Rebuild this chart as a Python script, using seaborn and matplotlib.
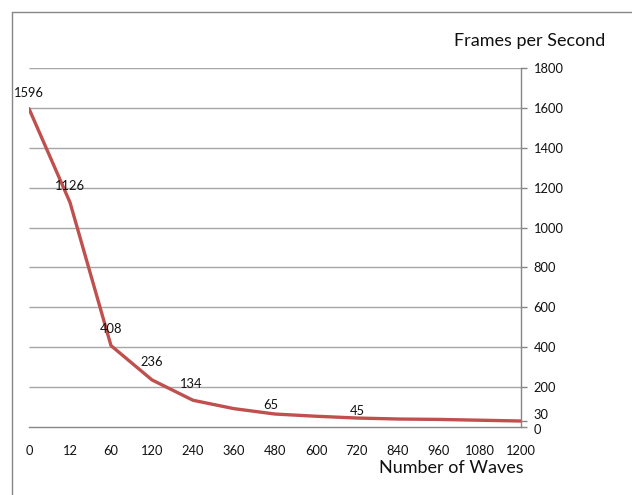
import matplotlib
matplotlib.use("Agg")
import matplotlib.pyplot as plt
import matplotlib.transforms as mtransforms
from matplotlib.lines import Line2D
import seaborn as sns
import pandas as pd

waves = ["0", "12", "60", "120", "240", "360", "480", "600", "720", "840", "960", "1080", "1200"]
fps = [1596, 1126, 408, 236, 134, 92, 65, 54, 45, 40, 38, 34, 30]
labeled = ["0", "12", "60", "120", "240", "480", "720"]
y_ticks = [0, 30, 200, 400, 600, 800, 1000, 1200, 1400, 1600, 1800]
grid_levels = [200, 400, 600, 800, 1000, 1200, 1400, 1600, 1800]

sns.set_theme(style="white")
plt.rcParams["font.family"] = ["Lato", "DejaVu Sans"]

df = pd.DataFrame({"waves": pd.Categorical(waves, categories=waves, ordered=True), "fps": fps})

fig = plt.figure(figsize=(6.32, 4.95), dpi=100)
ax = fig.add_axes([29 / 632, 1 - 427 / 495, (521 - 29) / 632, (427 - 68) / 495])

# horizontal gridlines at the 200 steps
ax.hlines(grid_levels, 0, 12, colors="#a6a6a6", linewidth=1.0, zorder=1)

sns.lineplot(data=df, x="waves", y="fps", color="#C0504D", linewidth=2.4,
             sort=False, ax=ax, zorder=3)

ax.set_xlim(0, 12)
ax.set_ylim(0, 1800)

# value labels above selected points
label_offsets = {"0": 11.5, "12": 11.5, "60": 12, "120": 13, "240": 11.5, "480": 6.5, "720": 5}
label_dx = {"240": -1.5, "480": -3}
for i, (w, v) in enumerate(zip(waves, fps)):
    if w in labeled:
        ax.annotate(str(v), (i, v), xytext=(label_dx.get(w, 0), label_offsets[w]),
                    textcoords="offset points", ha="center", va="center",
                    fontsize=9.3, color="#111111", zorder=4)

ax.yaxis.tick_right()
ax.set_yticks(y_ticks)
ax.set_yticklabels([str(t) for t in y_ticks])
ax.tick_params(axis="y", which="both", right=True, left=False, length=4, width=1,
               color="#868686", labelsize=9.3, labelcolor="#111111", pad=5)
ax.set_xticks(range(len(waves)))
ax.set_xticklabels(waves)
ax.tick_params(axis="x", bottom=False, labelsize=9.3, labelcolor="#111111", pad=7)

# keep the crowded 30 and 0 labels apart
for lab in ax.get_yticklabels():
    if lab.get_text() == "30":
        lab.set_transform(lab.get_transform() + mtransforms.ScaledTranslation(0, 7 / 100, fig.dpi_scale_trans))
    elif lab.get_text() == "0":
        lab.set_transform(lab.get_transform() + mtransforms.ScaledTranslation(0, -2 / 100, fig.dpi_scale_trans))

for side in ["top", "left"]:
    ax.spines[side].set_visible(False)
ax.spines["right"].set_color("#868686")
ax.spines["right"].set_linewidth(1.0)
ax.spines["bottom"].set_color("#868686")
ax.spines["bottom"].set_linewidth(1.0)

ax.set_xlabel("")
ax.set_ylabel("")

fig.text(530 / 632, 1 - 41 / 495, "Frames per Second", ha="center", va="center",
         fontsize=13, color="#111111")
fig.text(451 / 632, 1 - 468 / 495, "Number of Waves", ha="center", va="center",
         fontsize=13, color="#111111")

# outer chart frame
fig.add_artist(Line2D([11.5 / 632, 11.5 / 632], [0, 1 - 11.5 / 495],
                      transform=fig.transFigure, color="#868686", linewidth=1.0))
fig.add_artist(Line2D([11.5 / 632, 1], [1 - 11.5 / 495, 1 - 11.5 / 495],
                      transform=fig.transFigure, color="#868686", linewidth=1.0))

fig.savefig("out.png", dpi=100)
